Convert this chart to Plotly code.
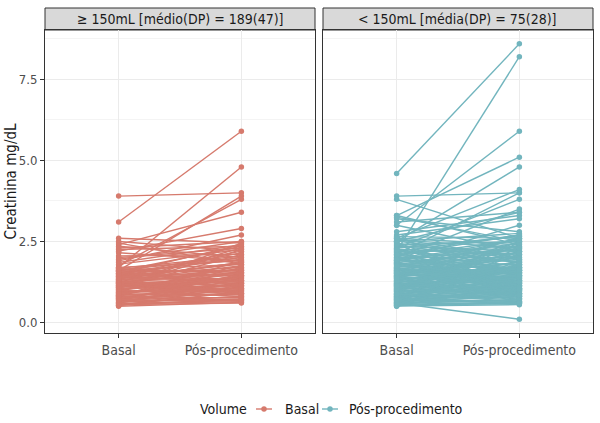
import plotly.graph_objects as go

# ---------------- data ----------------
categories = ["Basal", "Pós-procedimento"]
panel_titles = ["≥ 150mL [médio(DP) = 189(47)]", "< 150mL [média(DP) = 75(28)]"]
legend_title = "Volume"
legend_labels = ["Basal", "Pós-procedimento"]
y_ticks = [0.0, 2.5, 5.0, 7.5]

# ≥ 150 mL group : paired values (basal, pós)
ge150_basal = [
    3.9, 3.1, 1.7, 1.6, 1.75, 2.4, 2.2, 1.9, 2.6, 2.5, 2.35, 2.25, 2.15, 2.05, 1.95, 1.85, 2.45, 1.8, 2.0, 2.3,
    0.50, 0.53, 0.57, 0.60, 0.62, 0.66, 0.69, 0.71, 0.74, 0.77,
    0.80, 0.82, 0.85, 0.88, 0.90, 0.93, 0.96, 0.98, 1.01, 1.04,
    1.06, 1.09, 1.12, 1.14, 1.17, 1.20, 1.23, 1.25, 1.28, 1.31,
    1.33, 1.36, 1.39, 1.42, 1.44, 1.47, 1.50, 1.53, 1.56, 1.58,
    1.61, 1.64, 1.67, 1.70, 0.55, 0.64, 0.73, 0.84, 0.94, 1.03,
    1.13, 1.22, 1.32, 1.41, 1.52, 1.62, 0.78, 1.08, 1.27, 1.46,
    0.52, 0.59, 0.67, 0.75, 0.83, 0.91, 0.99, 1.07, 1.15, 1.24,
    1.34, 1.43, 1.51, 1.59, 1.68, 0.61, 0.70, 0.81, 0.92, 1.02,
    1.11, 1.21, 1.30, 1.38, 1.49, 1.57, 1.66, 0.54, 0.87, 1.19,
]
ge150_pos = [
    4.0, 5.9, 4.8, 3.9, 3.8, 3.4, 2.9, 2.7, 2.45, 2.2, 2.0, 2.35, 1.9, 2.1, 2.5, 2.4, 1.8, 2.25, 2.3, 2.5,
    0.62, 0.95, 0.70, 1.25, 0.80, 1.10, 0.66, 1.45, 0.90, 1.20,
    0.75, 1.60, 1.00, 0.85, 1.35, 1.05, 1.75, 0.95, 1.30, 1.15,
    2.45, 1.50, 1.20, 0.90, 1.40, 1.25, 2.30, 1.55, 1.10, 1.65,
    1.35, 1.85, 1.45, 2.15, 1.50, 1.70, 1.30, 1.95, 1.60, 2.35,
    1.80, 1.55, 2.05, 1.90, 0.60, 0.72, 1.00, 0.88, 1.15, 1.40,
    1.05, 1.65, 1.20, 1.80, 1.45, 2.00, 0.68, 1.30, 0.98, 2.20,
    1.10, 0.64, 1.50, 0.90, 1.70, 1.20, 0.80, 2.10, 1.40, 0.95,
    1.85, 1.25, 2.40, 1.60, 1.00, 1.35, 0.78, 1.90, 1.05, 1.55,
    2.25, 0.85, 1.75, 1.30, 2.00, 1.15, 1.50, 0.70, 1.45, 0.92,
]

# < 150 mL group : paired values (basal, pós)
lt150_basal = [
    4.6, 2.2, 3.0, 3.3, 2.5, 3.9, 3.8, 2.6, 2.1, 2.3, 3.3, 3.2, 3.1, 3.0, 2.8, 2.7, 2.5, 1.9, 3.25, 0.6, 2.0,
    0.50, 0.52, 0.55, 0.57, 0.60, 0.62, 0.65, 0.67, 0.70, 0.72,
    0.75, 0.77, 0.80, 0.82, 0.85, 0.87, 0.90, 0.92, 0.95, 0.97,
    1.00, 1.02, 1.05, 1.07, 1.10, 1.12, 1.15, 1.17, 1.20, 1.22,
    1.25, 1.27, 1.30, 1.32, 1.35, 1.37, 1.40, 1.42, 1.45, 1.47,
    1.50, 1.52, 1.55, 1.57, 1.60, 1.62, 1.65, 1.67, 1.70, 1.72,
    1.75, 1.77, 1.80, 1.82, 1.85, 1.87, 1.90, 1.92, 1.95, 1.97,
    2.00, 2.03, 2.06, 2.10, 2.14, 2.18, 2.22, 2.26, 2.30, 2.35,
    2.40, 2.45, 2.50, 2.55, 2.60, 2.65, 0.51, 0.58, 0.63, 0.68,
    0.74, 0.79, 0.84, 0.89, 0.94, 0.99, 1.04, 1.09, 1.14, 1.19,
    1.24, 1.29, 1.34, 1.39, 1.44, 1.49, 1.54, 1.59, 1.64, 1.69,
    0.53, 0.61, 0.71, 0.81, 0.91, 1.01, 1.11, 1.21, 1.31, 1.41,
    1.51, 1.61, 1.71, 1.81, 1.91, 2.01, 0.56, 0.76, 0.96, 1.16,
    0.54, 0.66, 0.78, 0.86, 0.98, 1.06, 1.18, 1.26, 1.38, 1.46,
    1.58, 1.66, 1.78, 1.86, 1.98, 2.08, 2.16, 2.28, 2.38, 2.48,
    2.58, 0.59, 0.73, 0.88, 1.03, 1.13, 1.28, 1.43, 1.53, 1.68,
    1.83, 1.93, 2.12, 2.24, 2.42, 2.52, 2.62, 0.69, 1.36, 1.74,
]
lt150_pos = [
    8.6, 8.2, 5.9, 5.1, 4.8, 4.0, 2.6, 4.1, 4.0, 3.8, 2.4, 2.8, 3.4, 2.2, 3.3, 3.2, 3.4, 3.0, 2.5, 0.1, 3.5,
    1.20, 0.60, 0.90, 1.50, 0.70, 1.10, 0.80, 1.80, 1.00, 0.65,
    1.30, 0.95, 2.10, 0.85, 1.40, 1.15, 0.75, 1.60, 1.05, 2.40,
    0.90, 1.25, 1.70, 1.35, 0.80, 1.90, 1.10, 1.45, 2.20, 1.00,
    1.55, 1.20, 0.70, 1.65, 2.50, 1.30, 1.75, 0.95, 1.40, 2.00,
    1.85, 1.10, 1.50, 2.30, 1.60, 0.85, 1.95, 1.25, 2.60, 1.70,
    1.35, 2.05, 1.80, 1.45, 2.15, 0.90, 1.90, 2.45, 1.55, 2.25,
    2.00, 1.65, 2.55, 1.75, 2.35, 2.70, 1.85, 2.10, 2.65, 2.20,
    2.50, 1.95, 2.75, 2.30, 2.40, 2.60, 0.55, 0.70, 1.00, 0.60,
    0.80, 1.20, 0.75, 1.05, 1.30, 0.90, 1.15, 1.50, 1.00, 1.35,
    1.60, 1.10, 1.45, 1.25, 1.70, 1.40, 1.55, 1.80, 1.50, 1.20,
    0.60, 0.95, 0.65, 1.00, 1.30, 0.85, 1.40, 1.05, 1.60, 1.15,
    1.70, 1.35, 2.00, 1.50, 1.65, 2.20, 0.62, 0.58, 1.10, 0.88,
    1.90, 1.30, 2.30, 0.70, 1.70, 2.50, 1.00, 2.10, 0.80, 1.60,
    2.60, 1.15, 2.35, 0.95, 1.55, 2.70, 1.25, 0.75, 1.85, 1.05,
    2.00, 2.20, 1.45, 0.65, 2.45, 1.75, 0.90, 2.15, 1.35, 0.60,
    1.25, 2.55, 1.05, 1.60, 0.85, 1.95, 1.45, 1.80, 2.65, 2.30,
]

colors = ["#D67A6D", "#72B5BE"]

# ---------------- figure ----------------
FONT = "Liberation Sans Narrow, DejaVu Sans Condensed, Roboto, sans-serif"
W, H = 600, 423
ML, MR, MT, MB = 45, 7, 8, 90
PW = W - ML - MR
PH = H - MT - MB
panel_top = (H - MB - 30) / PH   # panel top (strip bottom) in paper coords
split_l = (315 - ML) / PW
split_r = (323 - ML) / PW


def paired_xy(b, p):
    xs, ys = [], []
    for vb, vp in zip(b, p):
        xs += [categories[0], categories[1], None]
        ys += [vb, vp, None]
    return xs, ys


fig = go.Figure()
groups = [(ge150_basal, ge150_pos), (lt150_basal, lt150_pos)]
for i, (b, p) in enumerate(groups):
    xs, ys = paired_xy(b, p)
    fig.add_trace(go.Scatter(
        x=xs, y=ys, mode="lines+markers",
        line=dict(color=colors[i], width=1.4),
        marker=dict(color=colors[i], size=5.5),
        xaxis="x" if i == 0 else "x2", yaxis="y" if i == 0 else "y2",
        name=legend_labels[i], showlegend=False, hoverinfo="skip",
    ))

axis_common = dict(
    showline=True, mirror=True, linecolor="#333333", linewidth=1,
    gridcolor="#EBEBEB", gridwidth=1, zeroline=False,
    ticks="outside", ticklen=4, tickcolor="#333333", tickwidth=1,
)
xcommon = dict(axis_common, type="category", categoryorder="array", categoryarray=categories,
               range=[-0.6, 1.6], tickfont=dict(family=FONT, size=14, color="#4D4D4D"))
yrange = [-0.325, 9.025]
ycommon = dict(axis_common, range=yrange, tickvals=y_ticks,
               ticktext=[f"{v:.1f}" for v in y_ticks],
               tickfont=dict(family=FONT, size=13, color="#4D4D4D"),
               minor=dict(tickvals=[1.25, 3.75, 6.25, 8.75], showgrid=True,
                          gridcolor="#F4F4F4", gridwidth=0.6, ticks=""))

fig.update_layout(
    width=W, height=H, margin=dict(l=ML, r=MR, t=MT, b=MB),
    paper_bgcolor="white", plot_bgcolor="white",
    font=dict(family=FONT, color="#1A1A1A"),
    xaxis=dict(xcommon, domain=[0, split_l], anchor="y"),
    xaxis2=dict(xcommon, domain=[split_r, 1], anchor="y2"),
    yaxis=dict(ycommon, domain=[0, panel_top], anchor="x"),
    yaxis2=dict(ycommon, domain=[0, panel_top], anchor="x2", showticklabels=False, ticks=""),
    showlegend=False,
)

shapes = []
annotations = []
# facet strips
for (x0, x1), title in zip([(0, split_l), (split_r, 1)], panel_titles):
    shapes.append(dict(type="rect", xref="paper", yref="paper", x0=x0, x1=x1,
                       y0=panel_top, y1=1, fillcolor="#D9D9D9",
                       line=dict(color="#333333", width=1), layer="below"))
    annotations.append(dict(xref="paper", yref="paper", x=(x0 + x1) / 2, y=(panel_top + 1) / 2,
                            text=title, showarrow=False, xanchor="center", yanchor="middle",
                            font=dict(family=FONT, size=14, color="#1A1A1A")))

# y axis title
annotations.append(dict(xref="paper", yref="paper", x=(10 - ML) / PW, y=panel_top / 2,
                        text="Creatinina mg/dL", textangle=-90, showarrow=False,
                        xanchor="center", yanchor="middle",
                        font=dict(family=FONT, size=15, color="#1A1A1A")))

# manual legend
def px_x(px):
    return (px - ML) / PW

leg_y = (H - MB - 409) / PH
annotations.append(dict(xref="paper", yref="paper", x=px_x(198), y=leg_y, text=legend_title,
                        showarrow=False, xanchor="left", yanchor="middle",
                        font=dict(family=FONT, size=14, color="#1A1A1A")))
for cx, tx, col, lab in [(264, 283, colors[0], legend_labels[0]),
                         (330, 347, colors[1], legend_labels[1])]:
    shapes.append(dict(type="line", xref="paper", yref="paper",
                       x0=px_x(cx - 8), x1=px_x(cx + 8), y0=leg_y, y1=leg_y,
                       line=dict(color=col, width=1.4)))
    shapes.append(dict(type="circle", xref="paper", yref="paper",
                       xsizemode="pixel", ysizemode="pixel",
                       xanchor=px_x(cx), yanchor=leg_y, x0=-2.75, x1=2.75, y0=-2.75, y1=2.75,
                       fillcolor=col, line=dict(color=col, width=0)))
    annotations.append(dict(xref="paper", yref="paper", x=px_x(tx), y=leg_y, text=lab,
                            showarrow=False, xanchor="left", yanchor="middle",
                            font=dict(family=FONT, size=14, color="#1A1A1A")))

fig.update_layout(shapes=shapes, annotations=annotations)
fig.write_html("out.html")
